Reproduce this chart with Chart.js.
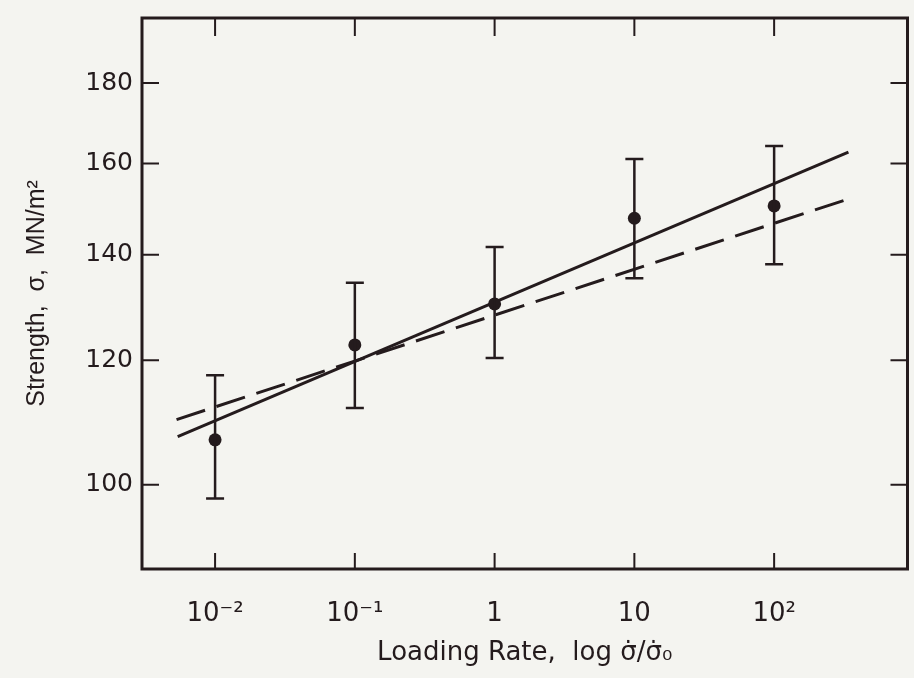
<!DOCTYPE html>
<html>
<head>
<meta charset="utf-8">
<script src="https://cdn.jsdelivr.net/npm/chart.js@4.4.1/dist/chart.umd.min.js"></script>
<style>
  html, body { margin: 0; padding: 0; background: #f4f4f0; }
  #wrap { width: 914px; height: 678px; }
</style>
</head>
<body>
<div id="wrap"><canvas id="c" width="914" height="678"></canvas></div>
<script>
// ---- data ----
const loadingRates = [0.01, 0.1, 1, 10, 100];
const strengthMean = [106.8, 122.7, 130.3, 147.7, 150.4];
const strengthUpper = [117.4, 134.4, 141.6, 161.1, 164.2];
const strengthLower = [98.0, 111.9, 120.4, 135.3, 138.1];

const solidFitX = [0.0054, 340];
const solidFitY = [107.3, 162.7];
const dashedFitX = [0.0053, 330];
const dashedFitY = [110.0, 151.8];

const xTickValues = [0.01, 0.1, 1, 10, 100];
const xTickLabels = ['10⁻²', '10⁻¹', '1', '10', '10²'];
const yTickValues = [100, 120, 140, 160, 180];
const yTickLabels = ['100', '120', '140', '160', '180'];

const INK = '#241b1d';

const toPts = (xs, ys) => xs.map((v, i) => ({ x: v, y: ys[i] }));

const framePlugin = {
  id: 'framePlugin',
  afterDatasetsDraw(chart) {
    const { ctx, chartArea: a, scales: { x, y } } = chart;
    ctx.save();
    ctx.strokeStyle = INK;
    ctx.lineCap = 'butt';
    // error bars
    ctx.lineWidth = 2.5;
    loadingRates.forEach((v, i) => {
      const px = x.getPixelForValue(v);
      const pt = y.getPixelForValue(strengthUpper[i]);
      const pb = y.getPixelForValue(strengthLower[i]);
      ctx.beginPath();
      ctx.moveTo(px, pt); ctx.lineTo(px, pb);
      ctx.moveTo(px - 9, pt); ctx.lineTo(px + 9, pt);
      ctx.moveTo(px - 9, pb); ctx.lineTo(px + 9, pb);
      ctx.stroke();
    });
    // frame
    ctx.lineWidth = 3;
    ctx.strokeRect(a.left, a.top, a.right - a.left, a.bottom - a.top);
    // inward ticks
    ctx.lineWidth = 2;
    ctx.beginPath();
    yTickValues.forEach(v => {
      const py = y.getPixelForValue(v);
      ctx.moveTo(a.left, py); ctx.lineTo(a.left + 17, py);
      ctx.moveTo(a.right, py); ctx.lineTo(a.right - 17, py);
    });
    xTickValues.forEach(v => {
      const px = x.getPixelForValue(v);
      ctx.moveTo(px, a.bottom); ctx.lineTo(px, a.bottom - 16);
      ctx.moveTo(px, a.top); ctx.lineTo(px, a.top + 18);
    });
    ctx.stroke();
    ctx.restore();
  }
};

new Chart(document.getElementById('c'), {
  type: 'scatter',
  data: {
    datasets: [
      {
        label: 'Strength',
        data: toPts(loadingRates, strengthMean),
        pointRadius: 6.5,
        pointBackgroundColor: INK,
        pointBorderColor: INK,
        pointBorderWidth: 0,
        showLine: false
      },
      {
        label: 'Solid fit',
        data: toPts(solidFitX, solidFitY),
        showLine: true,
        borderColor: INK,
        borderWidth: 3,
        pointRadius: 0
      },
      {
        label: 'Dashed fit',
        data: toPts(dashedFitX, dashedFitY),
        showLine: true,
        borderColor: INK,
        borderWidth: 3,
        borderDash: [30, 12],
        pointRadius: 0
      }
    ]
  },
  options: {
    responsive: false,
    animation: false,
    devicePixelRatio: 1,
    layout: { padding: { left: 0, right: 3, top: 18, bottom: 0 } },
    plugins: {
      legend: { display: false },
      tooltip: { enabled: false }
    },
    scales: {
      x: {
        type: 'logarithmic',
        min: 0.003,
        max: 900,
        grid: { display: false, drawTicks: false },
        border: { display: false },
        afterBuildTicks: s => { s.ticks = xTickValues.map(v => ({ value: v })); },
        afterFit: s => { s.height = 109; s.paddingLeft = 0; s.paddingRight = 0; },
        ticks: {
          autoSkip: false,
          maxRotation: 0,
          padding: 30,
          color: INK,
          font: { family: 'DejaVu Sans', size: 26 },
          callback: v => xTickLabels[xTickValues.indexOf(v)]
        },
        title: {
          display: true,
          text: 'Loading Rate,  log σ̇/σ̇₀',
          color: INK,
          font: { family: 'DejaVu Sans', size: 26 },
          padding: { top: 0, bottom: 9 }
        }
      },
      y: {
        type: 'logarithmic',
        min: 88.4,
        max: 198,
        grid: { display: false, drawTicks: false },
        border: { display: false },
        afterBuildTicks: s => { s.ticks = yTickValues.map(v => ({ value: v })); },
        afterFit: s => { s.width = 142; s.paddingTop = 0; s.paddingBottom = 0; },
        ticks: {
          autoSkip: false,
          padding: 9,
          color: INK,
          font: { family: 'DejaVu Sans', size: 25 },
          callback: v => yTickLabels[yTickValues.indexOf(v)]
        },
        title: {
          display: true,
          text: 'Strength,  σ,  MN/m²',
          color: INK,
          font: { family: 'Liberation Sans', size: 25 },
          padding: { top: 22, bottom: 0 }
        }
      }
    }
  },
  plugins: [framePlugin]
});
</script>
</body>
</html>
